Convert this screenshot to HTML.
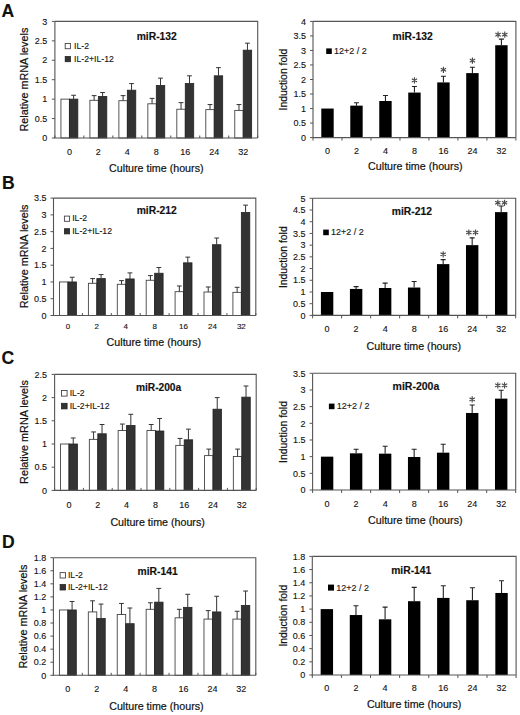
<!DOCTYPE html>
<html><head><meta charset="utf-8"><style>
html,body{margin:0;padding:0;background:#fff;}
svg{display:block;}
text{font-family:"Liberation Sans", sans-serif;fill:#111;stroke:#111;stroke-width:0.12px;}
.t{stroke:#111;stroke-width:0.2px;}
.tb{stroke:#111;stroke-width:0.15px;}
</style></head><body>
<svg width="520" height="715" viewBox="0 0 520 715">
<rect width="520" height="715" fill="#fff"/>
<path d="M54.90 21.40H257.70V138.00" fill="none" stroke="#555" stroke-width="1.1"/>
<rect x="60.94" y="99.13" width="8.45" height="38.87" fill="#fff" stroke="#444" stroke-width="0.9"/>
<rect x="69.39" y="99.13" width="8.45" height="38.87" fill="#333" stroke="#222" stroke-width="0.8"/>
<path d="M73.61 99.13V95.25M71.21 95.25H76.01" stroke="#333" stroke-width="1" fill="none"/>
<rect x="89.91" y="100.30" width="8.45" height="37.70" fill="#fff" stroke="#444" stroke-width="0.9"/>
<rect x="98.36" y="96.41" width="8.45" height="41.59" fill="#333" stroke="#222" stroke-width="0.8"/>
<path d="M94.13 100.30V95.64M91.73 95.64H96.53" stroke="#333" stroke-width="1" fill="none"/>
<path d="M102.58 96.41V92.53M100.18 92.53H104.98" stroke="#333" stroke-width="1" fill="none"/>
<rect x="118.88" y="100.69" width="8.45" height="37.31" fill="#fff" stroke="#444" stroke-width="0.9"/>
<rect x="127.33" y="90.19" width="8.45" height="47.81" fill="#333" stroke="#222" stroke-width="0.8"/>
<path d="M123.10 100.69V95.64M120.70 95.64H125.50" stroke="#333" stroke-width="1" fill="none"/>
<path d="M131.55 90.19V83.59M129.15 83.59H133.95" stroke="#333" stroke-width="1" fill="none"/>
<rect x="147.85" y="103.80" width="8.45" height="34.20" fill="#fff" stroke="#444" stroke-width="0.9"/>
<rect x="156.30" y="85.53" width="8.45" height="52.47" fill="#333" stroke="#222" stroke-width="0.8"/>
<path d="M152.07 103.80V98.36M149.67 98.36H154.47" stroke="#333" stroke-width="1" fill="none"/>
<path d="M160.52 85.53V78.15M158.12 78.15H162.92" stroke="#333" stroke-width="1" fill="none"/>
<rect x="176.82" y="109.24" width="8.45" height="28.76" fill="#fff" stroke="#444" stroke-width="0.9"/>
<rect x="185.27" y="83.59" width="8.45" height="54.41" fill="#333" stroke="#222" stroke-width="0.8"/>
<path d="M181.05 109.24V102.63M178.65 102.63H183.45" stroke="#333" stroke-width="1" fill="none"/>
<path d="M189.50 83.59V75.81M187.10 75.81H191.90" stroke="#333" stroke-width="1" fill="none"/>
<rect x="205.79" y="109.63" width="8.45" height="28.37" fill="#fff" stroke="#444" stroke-width="0.9"/>
<rect x="214.24" y="75.81" width="8.45" height="62.19" fill="#333" stroke="#222" stroke-width="0.8"/>
<path d="M210.02 109.63V104.57M207.62 104.57H212.42" stroke="#333" stroke-width="1" fill="none"/>
<path d="M218.47 75.81V67.65M216.07 67.65H220.87" stroke="#333" stroke-width="1" fill="none"/>
<rect x="234.76" y="110.40" width="8.45" height="27.60" fill="#fff" stroke="#444" stroke-width="0.9"/>
<rect x="243.21" y="50.16" width="8.45" height="87.84" fill="#333" stroke="#222" stroke-width="0.8"/>
<path d="M238.99 110.40V104.57M236.59 104.57H241.39" stroke="#333" stroke-width="1" fill="none"/>
<path d="M247.44 50.16V43.17M245.04 43.17H249.84" stroke="#333" stroke-width="1" fill="none"/>
<path d="M54.90 21.40V138.00H257.70" fill="none" stroke="#555" stroke-width="1.1"/>
<text x="47.20" y="141.20" text-anchor="end" font-size="9">0</text>
<text x="47.20" y="121.77" text-anchor="end" font-size="9">0.5</text>
<text x="47.20" y="102.33" text-anchor="end" font-size="9">1</text>
<text x="47.20" y="82.90" text-anchor="end" font-size="9">1.5</text>
<text x="47.20" y="63.47" text-anchor="end" font-size="9">2</text>
<text x="47.20" y="44.03" text-anchor="end" font-size="9">2.5</text>
<text x="47.20" y="24.60" text-anchor="end" font-size="9">3</text>
<path d="M51.90 138.00H54.90M51.90 118.57H54.90M51.90 99.13H54.90M51.90 79.70H54.90M51.90 60.27H54.90M51.90 40.83H54.90M51.90 21.40H54.90" stroke="#555" stroke-width="1"/>
<path d="M54.90 135.50V138.00M83.87 135.50V138.00M112.84 135.50V138.00M141.81 135.50V138.00M170.79 135.50V138.00M199.76 135.50V138.00M228.73 135.50V138.00M257.70 135.50V138.00" stroke="#555" stroke-width="1"/>
<text x="69.39" y="154.80" text-anchor="middle" font-size="9">0</text>
<text x="98.36" y="154.80" text-anchor="middle" font-size="9">2</text>
<text x="127.33" y="154.80" text-anchor="middle" font-size="9">4</text>
<text x="156.30" y="154.80" text-anchor="middle" font-size="9">8</text>
<text x="185.27" y="154.80" text-anchor="middle" font-size="9">16</text>
<text x="214.24" y="154.80" text-anchor="middle" font-size="9">24</text>
<text x="243.21" y="154.80" text-anchor="middle" font-size="9">32</text>
<text class="t" x="109.10" y="172.00" font-size="10.7">Culture time (hours)</text>
<text class="t" transform="translate(27.60 79.60) rotate(-90)" text-anchor="middle" font-size="10.8">Relative mRNA levels</text>
<text x="136.70" y="40.00" font-size="10.3" font-weight="bold" class="tb">miR-132</text>
<rect x="65.20" y="43.50" width="5.2" height="5.2" fill="#fff" stroke="#444" stroke-width="0.9"/>
<text x="74.00" y="48.70" font-size="8.7">IL-2</text>
<rect x="65.20" y="56.50" width="5.2" height="5.2" fill="#333" stroke="#222" stroke-width="0.8"/>
<text x="74.00" y="61.70" font-size="8.7">IL-2+IL-12</text>
<path d="M53.50 198.10H255.80V315.50" fill="none" stroke="#555" stroke-width="1.1"/>
<rect x="59.50" y="281.96" width="8.45" height="33.54" fill="#fff" stroke="#444" stroke-width="0.9"/>
<rect x="67.95" y="281.96" width="8.45" height="33.54" fill="#333" stroke="#222" stroke-width="0.8"/>
<path d="M72.17 281.96V277.26M69.77 277.26H74.58" stroke="#333" stroke-width="1" fill="none"/>
<rect x="88.40" y="283.30" width="8.45" height="32.20" fill="#fff" stroke="#444" stroke-width="0.9"/>
<rect x="96.85" y="278.60" width="8.45" height="36.90" fill="#333" stroke="#222" stroke-width="0.8"/>
<path d="M92.62 283.30V278.60M90.22 278.60H95.02" stroke="#333" stroke-width="1" fill="none"/>
<path d="M101.07 278.60V274.58M98.67 274.58H103.47" stroke="#333" stroke-width="1" fill="none"/>
<rect x="117.30" y="284.31" width="8.45" height="31.19" fill="#fff" stroke="#444" stroke-width="0.9"/>
<rect x="125.75" y="278.94" width="8.45" height="36.56" fill="#333" stroke="#222" stroke-width="0.8"/>
<path d="M121.52 284.31V280.62M119.12 280.62H123.92" stroke="#333" stroke-width="1" fill="none"/>
<path d="M129.97 278.94V272.90M127.57 272.90H132.38" stroke="#333" stroke-width="1" fill="none"/>
<rect x="146.20" y="280.28" width="8.45" height="35.22" fill="#fff" stroke="#444" stroke-width="0.9"/>
<rect x="154.65" y="273.24" width="8.45" height="42.26" fill="#333" stroke="#222" stroke-width="0.8"/>
<path d="M150.43 280.28V275.58M148.03 275.58H152.83" stroke="#333" stroke-width="1" fill="none"/>
<path d="M158.88 273.24V267.53M156.47 267.53H161.28" stroke="#333" stroke-width="1" fill="none"/>
<rect x="175.10" y="291.68" width="8.45" height="23.82" fill="#fff" stroke="#444" stroke-width="0.9"/>
<rect x="183.55" y="262.84" width="8.45" height="52.66" fill="#333" stroke="#222" stroke-width="0.8"/>
<path d="M179.33 291.68V285.98M176.93 285.98H181.73" stroke="#333" stroke-width="1" fill="none"/>
<path d="M187.78 262.84V257.14M185.38 257.14H190.18" stroke="#333" stroke-width="1" fill="none"/>
<rect x="204.00" y="292.02" width="8.45" height="23.48" fill="#fff" stroke="#444" stroke-width="0.9"/>
<rect x="212.45" y="244.72" width="8.45" height="70.78" fill="#333" stroke="#222" stroke-width="0.8"/>
<path d="M208.23 292.02V286.99M205.83 286.99H210.63" stroke="#333" stroke-width="1" fill="none"/>
<path d="M216.68 244.72V238.02M214.28 238.02H219.08" stroke="#333" stroke-width="1" fill="none"/>
<rect x="232.90" y="292.36" width="8.45" height="23.14" fill="#fff" stroke="#444" stroke-width="0.9"/>
<rect x="241.35" y="212.52" width="8.45" height="102.98" fill="#333" stroke="#222" stroke-width="0.8"/>
<path d="M237.13 292.36V287.32M234.73 287.32H239.53" stroke="#333" stroke-width="1" fill="none"/>
<path d="M245.58 212.52V205.14M243.18 205.14H247.98" stroke="#333" stroke-width="1" fill="none"/>
<path d="M53.50 198.10V315.50H255.80" fill="none" stroke="#555" stroke-width="1.1"/>
<text x="46.50" y="318.70" text-anchor="end" font-size="9">0</text>
<text x="46.50" y="301.93" text-anchor="end" font-size="9">0.5</text>
<text x="46.50" y="285.16" text-anchor="end" font-size="9">1</text>
<text x="46.50" y="268.39" text-anchor="end" font-size="9">1.5</text>
<text x="46.50" y="251.61" text-anchor="end" font-size="9">2</text>
<text x="46.50" y="234.84" text-anchor="end" font-size="9">2.5</text>
<text x="46.50" y="218.07" text-anchor="end" font-size="9">3</text>
<text x="46.50" y="201.30" text-anchor="end" font-size="9">3.5</text>
<path d="M50.50 315.50H53.50M50.50 298.73H53.50M50.50 281.96H53.50M50.50 265.19H53.50M50.50 248.41H53.50M50.50 231.64H53.50M50.50 214.87H53.50M50.50 198.10H53.50" stroke="#555" stroke-width="1"/>
<path d="M53.50 313.00V315.50M82.40 313.00V315.50M111.30 313.00V315.50M140.20 313.00V315.50M169.10 313.00V315.50M198.00 313.00V315.50M226.90 313.00V315.50M255.80 313.00V315.50" stroke="#555" stroke-width="1"/>
<text x="67.95" y="329.40" text-anchor="middle" font-size="8">0</text>
<text x="96.85" y="329.40" text-anchor="middle" font-size="8">2</text>
<text x="125.75" y="329.40" text-anchor="middle" font-size="8">4</text>
<text x="154.65" y="329.40" text-anchor="middle" font-size="8">8</text>
<text x="183.55" y="329.40" text-anchor="middle" font-size="8">16</text>
<text x="212.45" y="329.40" text-anchor="middle" font-size="8">24</text>
<text x="241.35" y="329.40" text-anchor="middle" font-size="8">32</text>
<text class="t" x="106.60" y="346.40" font-size="10.7">Culture time (hours)</text>
<text class="t" transform="translate(27.50 256.40) rotate(-90)" text-anchor="middle" font-size="10.8">Relative mRNA levels</text>
<text x="136.70" y="214.10" font-size="10.3" font-weight="bold" class="tb">miR-212</text>
<rect x="64.40" y="216.10" width="5.2" height="5.2" fill="#fff" stroke="#444" stroke-width="0.9"/>
<text x="72.20" y="221.30" font-size="8.7">IL-2</text>
<rect x="64.40" y="228.70" width="5.2" height="5.2" fill="#333" stroke="#222" stroke-width="0.8"/>
<text x="72.20" y="233.90" font-size="8.7">IL-2+IL-12</text>
<path d="M54.60 374.40H256.20V490.40" fill="none" stroke="#555" stroke-width="1.1"/>
<rect x="60.55" y="444.00" width="8.45" height="46.40" fill="#fff" stroke="#444" stroke-width="0.9"/>
<rect x="69.00" y="444.00" width="8.45" height="46.40" fill="#333" stroke="#222" stroke-width="0.8"/>
<path d="M73.22 444.00V437.97M70.82 437.97H75.62" stroke="#333" stroke-width="1" fill="none"/>
<rect x="89.35" y="439.36" width="8.45" height="51.04" fill="#fff" stroke="#444" stroke-width="0.9"/>
<rect x="97.80" y="433.79" width="8.45" height="56.61" fill="#333" stroke="#222" stroke-width="0.8"/>
<path d="M93.58 439.36V431.94M91.17 431.94H95.98" stroke="#333" stroke-width="1" fill="none"/>
<path d="M102.03 433.79V424.51M99.62 424.51H104.43" stroke="#333" stroke-width="1" fill="none"/>
<rect x="118.15" y="430.54" width="8.45" height="59.86" fill="#fff" stroke="#444" stroke-width="0.9"/>
<rect x="126.60" y="425.44" width="8.45" height="64.96" fill="#333" stroke="#222" stroke-width="0.8"/>
<path d="M122.37 430.54V424.05M119.97 424.05H124.77" stroke="#333" stroke-width="1" fill="none"/>
<path d="M130.82 425.44V414.30M128.42 414.30H133.22" stroke="#333" stroke-width="1" fill="none"/>
<rect x="146.95" y="430.54" width="8.45" height="59.86" fill="#fff" stroke="#444" stroke-width="0.9"/>
<rect x="155.40" y="431.01" width="8.45" height="59.39" fill="#333" stroke="#222" stroke-width="0.8"/>
<path d="M151.18 430.54V424.51M148.78 424.51H153.58" stroke="#333" stroke-width="1" fill="none"/>
<path d="M159.62 431.01V418.48M157.22 418.48H162.03" stroke="#333" stroke-width="1" fill="none"/>
<rect x="175.75" y="445.39" width="8.45" height="45.01" fill="#fff" stroke="#444" stroke-width="0.9"/>
<rect x="184.20" y="439.82" width="8.45" height="50.58" fill="#333" stroke="#222" stroke-width="0.8"/>
<path d="M179.97 445.39V438.43M177.57 438.43H182.38" stroke="#333" stroke-width="1" fill="none"/>
<path d="M188.42 439.82V429.15M186.02 429.15H190.82" stroke="#333" stroke-width="1" fill="none"/>
<rect x="204.55" y="455.60" width="8.45" height="34.80" fill="#fff" stroke="#444" stroke-width="0.9"/>
<rect x="213.00" y="409.20" width="8.45" height="81.20" fill="#333" stroke="#222" stroke-width="0.8"/>
<path d="M208.78 455.60V449.10M206.38 449.10H211.18" stroke="#333" stroke-width="1" fill="none"/>
<path d="M217.22 409.20V397.60M214.82 397.60H219.62" stroke="#333" stroke-width="1" fill="none"/>
<rect x="233.35" y="456.53" width="8.45" height="33.87" fill="#fff" stroke="#444" stroke-width="0.9"/>
<rect x="241.80" y="397.14" width="8.45" height="93.26" fill="#333" stroke="#222" stroke-width="0.8"/>
<path d="M237.58 456.53V449.10M235.18 449.10H239.98" stroke="#333" stroke-width="1" fill="none"/>
<path d="M246.03 397.14V386.00M243.62 386.00H248.43" stroke="#333" stroke-width="1" fill="none"/>
<path d="M54.60 374.40V490.40H256.20" fill="none" stroke="#555" stroke-width="1.1"/>
<text x="47.10" y="493.60" text-anchor="end" font-size="9">0</text>
<text x="47.10" y="470.40" text-anchor="end" font-size="9">0.5</text>
<text x="47.10" y="447.20" text-anchor="end" font-size="9">1</text>
<text x="47.10" y="424.00" text-anchor="end" font-size="9">1.5</text>
<text x="47.10" y="400.80" text-anchor="end" font-size="9">2</text>
<text x="47.10" y="377.60" text-anchor="end" font-size="9">2.5</text>
<path d="M51.60 490.40H54.60M51.60 467.20H54.60M51.60 444.00H54.60M51.60 420.80H54.60M51.60 397.60H54.60M51.60 374.40H54.60" stroke="#555" stroke-width="1"/>
<path d="M54.60 487.90V490.40M83.40 487.90V490.40M112.20 487.90V490.40M141.00 487.90V490.40M169.80 487.90V490.40M198.60 487.90V490.40M227.40 487.90V490.40M256.20 487.90V490.40" stroke="#555" stroke-width="1"/>
<text x="69.00" y="507.50" text-anchor="middle" font-size="9">0</text>
<text x="97.80" y="507.50" text-anchor="middle" font-size="9">2</text>
<text x="126.60" y="507.50" text-anchor="middle" font-size="9">4</text>
<text x="155.40" y="507.50" text-anchor="middle" font-size="9">8</text>
<text x="184.20" y="507.50" text-anchor="middle" font-size="9">16</text>
<text x="213.00" y="507.50" text-anchor="middle" font-size="9">24</text>
<text x="241.80" y="507.50" text-anchor="middle" font-size="9">32</text>
<text class="t" x="110.40" y="526.00" font-size="10.7">Culture time (hours)</text>
<text class="t" transform="translate(27.50 432.00) rotate(-90)" text-anchor="middle" font-size="10.8">Relative mRNA levels</text>
<text x="135.90" y="391.00" font-size="10.2" font-weight="bold" class="tb">miR-200a</text>
<rect x="61.50" y="390.50" width="5.6" height="5.6" fill="#fff" stroke="#444" stroke-width="0.9"/>
<text x="69.70" y="396.10" font-size="8.7">IL-2</text>
<rect x="61.50" y="403.30" width="5.6" height="5.6" fill="#333" stroke="#222" stroke-width="0.8"/>
<text x="69.70" y="408.90" font-size="8.7">IL-2+IL-12</text>
<path d="M53.40 557.70H255.80V675.30" fill="none" stroke="#555" stroke-width="1.1"/>
<rect x="59.41" y="609.97" width="8.45" height="65.33" fill="#fff" stroke="#444" stroke-width="0.9"/>
<rect x="67.86" y="609.97" width="8.45" height="65.33" fill="#333" stroke="#222" stroke-width="0.8"/>
<path d="M72.08 609.97V601.47M69.68 601.47H74.48" stroke="#333" stroke-width="1" fill="none"/>
<rect x="88.32" y="611.93" width="8.45" height="63.37" fill="#fff" stroke="#444" stroke-width="0.9"/>
<rect x="96.77" y="618.46" width="8.45" height="56.84" fill="#333" stroke="#222" stroke-width="0.8"/>
<path d="M92.55 611.93V600.82M90.15 600.82H94.95" stroke="#333" stroke-width="1" fill="none"/>
<path d="M101.00 618.46V604.09M98.60 604.09H103.40" stroke="#333" stroke-width="1" fill="none"/>
<rect x="117.24" y="614.54" width="8.45" height="60.76" fill="#fff" stroke="#444" stroke-width="0.9"/>
<rect x="125.69" y="623.69" width="8.45" height="51.61" fill="#333" stroke="#222" stroke-width="0.8"/>
<path d="M121.46 614.54V603.43M119.06 603.43H123.86" stroke="#333" stroke-width="1" fill="none"/>
<path d="M129.91 623.69V608.01M127.51 608.01H132.31" stroke="#333" stroke-width="1" fill="none"/>
<rect x="146.15" y="609.31" width="8.45" height="65.99" fill="#fff" stroke="#444" stroke-width="0.9"/>
<rect x="154.60" y="602.13" width="8.45" height="73.17" fill="#333" stroke="#222" stroke-width="0.8"/>
<path d="M150.38 609.31V602.78M147.97 602.78H152.78" stroke="#333" stroke-width="1" fill="none"/>
<path d="M158.82 602.13V588.41M156.42 588.41H161.22" stroke="#333" stroke-width="1" fill="none"/>
<rect x="175.06" y="617.81" width="8.45" height="57.49" fill="#fff" stroke="#444" stroke-width="0.9"/>
<rect x="183.51" y="607.35" width="8.45" height="67.95" fill="#333" stroke="#222" stroke-width="0.8"/>
<path d="M179.29 617.81V609.31M176.89 609.31H181.69" stroke="#333" stroke-width="1" fill="none"/>
<path d="M187.74 607.35V594.29M185.34 594.29H190.14" stroke="#333" stroke-width="1" fill="none"/>
<rect x="203.98" y="619.11" width="8.45" height="56.19" fill="#fff" stroke="#444" stroke-width="0.9"/>
<rect x="212.43" y="611.93" width="8.45" height="63.37" fill="#333" stroke="#222" stroke-width="0.8"/>
<path d="M208.20 619.11V610.62M205.80 610.62H210.60" stroke="#333" stroke-width="1" fill="none"/>
<path d="M216.65 611.93V596.25M214.25 596.25H219.05" stroke="#333" stroke-width="1" fill="none"/>
<rect x="232.89" y="619.11" width="8.45" height="56.19" fill="#fff" stroke="#444" stroke-width="0.9"/>
<rect x="241.34" y="605.39" width="8.45" height="69.91" fill="#333" stroke="#222" stroke-width="0.8"/>
<path d="M237.12 619.11V611.27M234.72 611.27H239.52" stroke="#333" stroke-width="1" fill="none"/>
<path d="M245.57 605.39V591.02M243.17 591.02H247.97" stroke="#333" stroke-width="1" fill="none"/>
<path d="M53.40 557.70V675.30H255.80" fill="none" stroke="#555" stroke-width="1.1"/>
<text x="46.20" y="678.50" text-anchor="end" font-size="9">0</text>
<text x="46.20" y="665.43" text-anchor="end" font-size="9">0.2</text>
<text x="46.20" y="652.37" text-anchor="end" font-size="9">0.4</text>
<text x="46.20" y="639.30" text-anchor="end" font-size="9">0.6</text>
<text x="46.20" y="626.23" text-anchor="end" font-size="9">0.8</text>
<text x="46.20" y="613.17" text-anchor="end" font-size="9">1</text>
<text x="46.20" y="600.10" text-anchor="end" font-size="9">1.2</text>
<text x="46.20" y="587.03" text-anchor="end" font-size="9">1.4</text>
<text x="46.20" y="573.97" text-anchor="end" font-size="9">1.6</text>
<text x="46.20" y="560.90" text-anchor="end" font-size="9">1.8</text>
<path d="M50.40 675.30H53.40M50.40 662.23H53.40M50.40 649.17H53.40M50.40 636.10H53.40M50.40 623.03H53.40M50.40 609.97H53.40M50.40 596.90H53.40M50.40 583.83H53.40M50.40 570.77H53.40M50.40 557.70H53.40" stroke="#555" stroke-width="1"/>
<path d="M53.40 672.80V675.30M82.31 672.80V675.30M111.23 672.80V675.30M140.14 672.80V675.30M169.06 672.80V675.30M197.97 672.80V675.30M226.89 672.80V675.30M255.80 672.80V675.30" stroke="#555" stroke-width="1"/>
<text x="67.86" y="692.30" text-anchor="middle" font-size="9">0</text>
<text x="96.77" y="692.30" text-anchor="middle" font-size="9">2</text>
<text x="125.69" y="692.30" text-anchor="middle" font-size="9">4</text>
<text x="154.60" y="692.30" text-anchor="middle" font-size="9">8</text>
<text x="183.51" y="692.30" text-anchor="middle" font-size="9">16</text>
<text x="212.43" y="692.30" text-anchor="middle" font-size="9">24</text>
<text x="241.34" y="692.30" text-anchor="middle" font-size="9">32</text>
<text class="t" x="109.20" y="710.10" font-size="10.7">Culture time (hours)</text>
<text class="t" transform="translate(27.00 616.60) rotate(-90)" text-anchor="middle" font-size="10.8">Relative mRNA levels</text>
<text x="137.60" y="575.20" font-size="10.3" font-weight="bold" class="tb">miR-141</text>
<rect x="60.10" y="572.60" width="5.4" height="5.4" fill="#fff" stroke="#444" stroke-width="0.9"/>
<text x="67.90" y="578.00" font-size="8.7">IL-2</text>
<rect x="60.10" y="584.60" width="5.4" height="5.4" fill="#333" stroke="#222" stroke-width="0.8"/>
<text x="67.90" y="590.00" font-size="8.7">IL-2+IL-12</text>
<path d="M313.00 21.40H515.90V137.60" fill="none" stroke="#555" stroke-width="1.1"/>
<rect x="321.29" y="108.55" width="12.40" height="29.05" fill="#000"/>
<rect x="350.28" y="105.64" width="12.40" height="31.95" fill="#000"/>
<path d="M356.48 105.64V102.74M353.98 102.74H358.98" stroke="#222" stroke-width="1.1" fill="none"/>
<rect x="379.26" y="101.00" width="12.40" height="36.60" fill="#000"/>
<path d="M385.46 101.00V95.48M382.96 95.48H387.96" stroke="#222" stroke-width="1.1" fill="none"/>
<rect x="408.25" y="92.57" width="12.40" height="45.03" fill="#000"/>
<path d="M414.45 92.57V86.47M411.95 86.47H416.95" stroke="#222" stroke-width="1.1" fill="none"/>
<path d="M414.45 77.30L414.45 83.50M411.77 78.85L417.13 81.95M411.77 81.95L417.13 78.85" stroke="#4a4a4a" stroke-width="1.15" stroke-linecap="butt"/>
<rect x="437.24" y="82.41" width="12.40" height="55.19" fill="#000"/>
<path d="M443.44 82.41V76.30M440.94 76.30H445.94" stroke="#222" stroke-width="1.1" fill="none"/>
<path d="M443.44 66.70L443.44 72.90M440.75 68.25L446.12 71.35M440.75 71.35L446.12 68.25" stroke="#4a4a4a" stroke-width="1.15" stroke-linecap="butt"/>
<rect x="466.22" y="73.11" width="12.40" height="64.49" fill="#000"/>
<path d="M472.42 73.11V67.30M469.92 67.30H474.92" stroke="#222" stroke-width="1.1" fill="none"/>
<path d="M472.42 57.50L472.42 63.70M469.74 59.05L475.11 62.15M469.74 62.15L475.11 59.05" stroke="#4a4a4a" stroke-width="1.15" stroke-linecap="butt"/>
<rect x="495.21" y="45.22" width="12.40" height="92.38" fill="#000"/>
<path d="M501.41 45.22V39.12M498.91 39.12H503.91" stroke="#222" stroke-width="1.1" fill="none"/>
<path d="M498.06 31.50L498.06 37.70M495.37 33.05L500.74 36.15M495.37 36.15L500.74 33.05" stroke="#4a4a4a" stroke-width="1.15" stroke-linecap="butt"/>
<path d="M504.76 31.50L504.76 37.70M502.07 33.05L507.44 36.15M502.07 36.15L507.44 33.05" stroke="#4a4a4a" stroke-width="1.15" stroke-linecap="butt"/>
<path d="M313.00 21.40V137.60H515.90" fill="none" stroke="#555" stroke-width="1.1"/>
<text x="306.00" y="140.80" text-anchor="end" font-size="9">0</text>
<text x="306.00" y="126.27" text-anchor="end" font-size="9">0.5</text>
<text x="306.00" y="111.75" text-anchor="end" font-size="9">1</text>
<text x="306.00" y="97.23" text-anchor="end" font-size="9">1.5</text>
<text x="306.00" y="82.70" text-anchor="end" font-size="9">2</text>
<text x="306.00" y="68.17" text-anchor="end" font-size="9">2.5</text>
<text x="306.00" y="53.65" text-anchor="end" font-size="9">3</text>
<text x="306.00" y="39.13" text-anchor="end" font-size="9">3.5</text>
<text x="306.00" y="24.60" text-anchor="end" font-size="9">4</text>
<path d="M310.00 137.60H313.00M310.00 123.07H313.00M310.00 108.55H313.00M310.00 94.03H313.00M310.00 79.50H313.00M310.00 64.97H313.00M310.00 50.45H313.00M310.00 35.93H313.00M310.00 21.40H313.00" stroke="#555" stroke-width="1"/>
<path d="M313.00 137.60V140.60M341.99 137.60V140.60M370.97 137.60V140.60M399.96 137.60V140.60M428.94 137.60V140.60M457.93 137.60V140.60M486.91 137.60V140.60M515.90 137.60V140.60" stroke="#555" stroke-width="1"/>
<text x="327.49" y="153.50" text-anchor="middle" font-size="9">0</text>
<text x="356.48" y="153.50" text-anchor="middle" font-size="9">2</text>
<text x="385.46" y="153.50" text-anchor="middle" font-size="9">4</text>
<text x="414.45" y="153.50" text-anchor="middle" font-size="9">8</text>
<text x="443.44" y="153.50" text-anchor="middle" font-size="9">16</text>
<text x="472.42" y="153.50" text-anchor="middle" font-size="9">24</text>
<text x="501.41" y="153.50" text-anchor="middle" font-size="9">32</text>
<text class="t" x="368.10" y="170.20" font-size="10.7">Culture time (hours)</text>
<text class="t" transform="translate(286.80 79.60) rotate(-90)" text-anchor="middle" font-size="10.4">Induction fold</text>
<text x="392.60" y="39.80" font-size="10.3" font-weight="bold" class="tb">miR-132</text>
<rect x="326.20" y="48.40" width="5.6" height="5.6" fill="#000"/>
<text x="334.10" y="54.00" font-size="9">12+2 / 2</text>
<path d="M312.60 198.30H515.70V315.40" fill="none" stroke="#555" stroke-width="1.1"/>
<rect x="320.91" y="291.98" width="12.40" height="23.42" fill="#000"/>
<rect x="349.92" y="288.94" width="12.40" height="26.46" fill="#000"/>
<path d="M356.12 288.94V286.59M353.62 286.59H358.62" stroke="#222" stroke-width="1.1" fill="none"/>
<rect x="378.94" y="288.00" width="12.40" height="27.40" fill="#000"/>
<path d="M385.14 288.00V283.08M382.64 283.08H387.64" stroke="#222" stroke-width="1.1" fill="none"/>
<rect x="407.95" y="287.53" width="12.40" height="27.87" fill="#000"/>
<path d="M414.15 287.53V281.44M411.65 281.44H416.65" stroke="#222" stroke-width="1.1" fill="none"/>
<rect x="436.96" y="264.11" width="12.40" height="51.29" fill="#000"/>
<path d="M443.16 264.11V259.66M440.66 259.66H445.66" stroke="#222" stroke-width="1.1" fill="none"/>
<path d="M443.16 251.20L443.16 257.40M440.48 252.75L445.85 255.85M440.48 255.85L445.85 252.75" stroke="#4a4a4a" stroke-width="1.15" stroke-linecap="butt"/>
<rect x="465.98" y="245.14" width="12.40" height="70.26" fill="#000"/>
<path d="M472.18 245.14V237.88M469.68 237.88H474.68" stroke="#222" stroke-width="1.1" fill="none"/>
<path d="M468.83 229.40L468.83 235.60M466.14 230.95L471.51 234.05M466.14 234.05L471.51 230.95" stroke="#4a4a4a" stroke-width="1.15" stroke-linecap="butt"/>
<path d="M475.53 229.40L475.53 235.60M472.84 230.95L478.21 234.05M472.84 234.05L478.21 230.95" stroke="#4a4a4a" stroke-width="1.15" stroke-linecap="butt"/>
<rect x="494.99" y="212.12" width="12.40" height="103.28" fill="#000"/>
<path d="M501.19 212.12V206.03M498.69 206.03H503.69" stroke="#222" stroke-width="1.1" fill="none"/>
<path d="M497.84 199.70L497.84 205.90M495.16 201.25L500.53 204.35M495.16 204.35L500.53 201.25" stroke="#4a4a4a" stroke-width="1.15" stroke-linecap="butt"/>
<path d="M504.54 199.70L504.54 205.90M501.86 201.25L507.23 204.35M501.86 204.35L507.23 201.25" stroke="#4a4a4a" stroke-width="1.15" stroke-linecap="butt"/>
<path d="M312.60 198.30V315.40H515.70" fill="none" stroke="#555" stroke-width="1.1"/>
<text x="305.60" y="318.60" text-anchor="end" font-size="9">0</text>
<text x="305.60" y="306.89" text-anchor="end" font-size="9">0.5</text>
<text x="305.60" y="295.18" text-anchor="end" font-size="9">1</text>
<text x="305.60" y="283.47" text-anchor="end" font-size="9">1.5</text>
<text x="305.60" y="271.76" text-anchor="end" font-size="9">2</text>
<text x="305.60" y="260.05" text-anchor="end" font-size="9">2.5</text>
<text x="305.60" y="248.34" text-anchor="end" font-size="9">3</text>
<text x="305.60" y="236.63" text-anchor="end" font-size="9">3.5</text>
<text x="305.60" y="224.92" text-anchor="end" font-size="9">4</text>
<text x="305.60" y="213.21" text-anchor="end" font-size="9">4.5</text>
<text x="305.60" y="201.50" text-anchor="end" font-size="9">5</text>
<path d="M309.60 315.40H312.60M309.60 303.69H312.60M309.60 291.98H312.60M309.60 280.27H312.60M309.60 268.56H312.60M309.60 256.85H312.60M309.60 245.14H312.60M309.60 233.43H312.60M309.60 221.72H312.60M309.60 210.01H312.60M309.60 198.30H312.60" stroke="#555" stroke-width="1"/>
<path d="M312.60 315.40V318.40M341.61 315.40V318.40M370.63 315.40V318.40M399.64 315.40V318.40M428.66 315.40V318.40M457.67 315.40V318.40M486.69 315.40V318.40M515.70 315.40V318.40" stroke="#555" stroke-width="1"/>
<text x="327.11" y="332.30" text-anchor="middle" font-size="9">0</text>
<text x="356.12" y="332.30" text-anchor="middle" font-size="9">2</text>
<text x="385.14" y="332.30" text-anchor="middle" font-size="9">4</text>
<text x="414.15" y="332.30" text-anchor="middle" font-size="9">8</text>
<text x="443.16" y="332.30" text-anchor="middle" font-size="9">16</text>
<text x="472.18" y="332.30" text-anchor="middle" font-size="9">24</text>
<text x="501.19" y="332.30" text-anchor="middle" font-size="9">32</text>
<text class="t" x="366.50" y="349.50" font-size="10.7">Culture time (hours)</text>
<text class="t" transform="translate(287.00 257.20) rotate(-90)" text-anchor="middle" font-size="10.4">Induction fold</text>
<text x="391.80" y="215.10" font-size="10.3" font-weight="bold" class="tb">miR-212</text>
<rect x="323.20" y="229.60" width="5.6" height="5.6" fill="#000"/>
<text x="331.10" y="235.20" font-size="9">12+2 / 2</text>
<path d="M312.60 373.30H515.70V490.00" fill="none" stroke="#555" stroke-width="1.1"/>
<rect x="320.91" y="456.66" width="12.40" height="33.34" fill="#000"/>
<rect x="349.92" y="453.32" width="12.40" height="36.68" fill="#000"/>
<path d="M356.12 453.32V449.32M353.62 449.32H358.62" stroke="#222" stroke-width="1.1" fill="none"/>
<rect x="378.94" y="453.66" width="12.40" height="36.34" fill="#000"/>
<path d="M385.14 453.66V446.32M382.64 446.32H387.64" stroke="#222" stroke-width="1.1" fill="none"/>
<rect x="407.95" y="456.99" width="12.40" height="33.01" fill="#000"/>
<path d="M414.15 456.99V449.32M411.65 449.32H416.65" stroke="#222" stroke-width="1.1" fill="none"/>
<rect x="436.96" y="452.66" width="12.40" height="37.34" fill="#000"/>
<path d="M443.16 452.66V444.32M440.66 444.32H445.66" stroke="#222" stroke-width="1.1" fill="none"/>
<rect x="465.98" y="412.98" width="12.40" height="77.02" fill="#000"/>
<path d="M472.18 412.98V404.98M469.68 404.98H474.68" stroke="#222" stroke-width="1.1" fill="none"/>
<path d="M472.18 396.30L472.18 402.50M469.49 397.85L474.86 400.95M469.49 400.95L474.86 397.85" stroke="#4a4a4a" stroke-width="1.15" stroke-linecap="butt"/>
<rect x="494.99" y="398.64" width="12.40" height="91.36" fill="#000"/>
<path d="M501.19 398.64V390.30M498.69 390.30H503.69" stroke="#222" stroke-width="1.1" fill="none"/>
<path d="M497.84 382.30L497.84 388.50M495.16 383.85L500.53 386.95M495.16 386.95L500.53 383.85" stroke="#4a4a4a" stroke-width="1.15" stroke-linecap="butt"/>
<path d="M504.54 382.30L504.54 388.50M501.86 383.85L507.23 386.95M501.86 386.95L507.23 383.85" stroke="#4a4a4a" stroke-width="1.15" stroke-linecap="butt"/>
<path d="M312.60 373.30V490.00H515.70" fill="none" stroke="#555" stroke-width="1.1"/>
<text x="305.60" y="493.20" text-anchor="end" font-size="9">0</text>
<text x="305.60" y="476.53" text-anchor="end" font-size="9">0.5</text>
<text x="305.60" y="459.86" text-anchor="end" font-size="9">1</text>
<text x="305.60" y="443.19" text-anchor="end" font-size="9">1.5</text>
<text x="305.60" y="426.51" text-anchor="end" font-size="9">2</text>
<text x="305.60" y="409.84" text-anchor="end" font-size="9">2.5</text>
<text x="305.60" y="393.17" text-anchor="end" font-size="9">3</text>
<text x="305.60" y="376.50" text-anchor="end" font-size="9">3.5</text>
<path d="M309.60 490.00H312.60M309.60 473.33H312.60M309.60 456.66H312.60M309.60 439.99H312.60M309.60 423.31H312.60M309.60 406.64H312.60M309.60 389.97H312.60M309.60 373.30H312.60" stroke="#555" stroke-width="1"/>
<path d="M312.60 490.00V493.00M341.61 490.00V493.00M370.63 490.00V493.00M399.64 490.00V493.00M428.66 490.00V493.00M457.67 490.00V493.00M486.69 490.00V493.00M515.70 490.00V493.00" stroke="#555" stroke-width="1"/>
<text x="327.11" y="506.50" text-anchor="middle" font-size="9">0</text>
<text x="356.12" y="506.50" text-anchor="middle" font-size="9">2</text>
<text x="385.14" y="506.50" text-anchor="middle" font-size="9">4</text>
<text x="414.15" y="506.50" text-anchor="middle" font-size="9">8</text>
<text x="443.16" y="506.50" text-anchor="middle" font-size="9">16</text>
<text x="472.18" y="506.50" text-anchor="middle" font-size="9">24</text>
<text x="501.19" y="506.50" text-anchor="middle" font-size="9">32</text>
<text class="t" x="368.10" y="524.20" font-size="10.7">Culture time (hours)</text>
<text class="t" transform="translate(287.00 432.00) rotate(-90)" text-anchor="middle" font-size="10.4">Induction fold</text>
<text x="392.60" y="389.60" font-size="10.5" font-weight="bold" class="tb">miR-200a</text>
<rect x="328.90" y="403.60" width="5.6" height="5.6" fill="#000"/>
<text x="336.80" y="409.20" font-size="9">12+2 / 2</text>
<path d="M312.30 556.40H516.10V675.00" fill="none" stroke="#555" stroke-width="1.1"/>
<rect x="320.66" y="609.11" width="12.40" height="65.89" fill="#000"/>
<rect x="349.77" y="615.04" width="12.40" height="59.96" fill="#000"/>
<path d="M355.97 615.04V605.82M353.47 605.82H358.47" stroke="#222" stroke-width="1.1" fill="none"/>
<rect x="378.89" y="619.32" width="12.40" height="55.68" fill="#000"/>
<path d="M385.09 619.32V607.13M382.59 607.13H387.59" stroke="#222" stroke-width="1.1" fill="none"/>
<rect x="408.00" y="601.20" width="12.40" height="73.80" fill="#000"/>
<path d="M414.20 601.20V587.37M411.70 587.37H416.70" stroke="#222" stroke-width="1.1" fill="none"/>
<rect x="437.11" y="597.91" width="12.40" height="77.09" fill="#000"/>
<path d="M443.31 597.91V585.72M440.81 585.72H445.81" stroke="#222" stroke-width="1.1" fill="none"/>
<rect x="466.23" y="600.22" width="12.40" height="74.78" fill="#000"/>
<path d="M472.43 600.22V587.70M469.93 587.70H474.93" stroke="#222" stroke-width="1.1" fill="none"/>
<rect x="495.34" y="592.97" width="12.40" height="82.03" fill="#000"/>
<path d="M501.54 592.97V580.78M499.04 580.78H504.04" stroke="#222" stroke-width="1.1" fill="none"/>
<path d="M312.30 556.40V675.00H516.10" fill="none" stroke="#555" stroke-width="1.1"/>
<text x="305.30" y="678.20" text-anchor="end" font-size="9">0</text>
<text x="305.30" y="665.02" text-anchor="end" font-size="9">0.2</text>
<text x="305.30" y="651.84" text-anchor="end" font-size="9">0.4</text>
<text x="305.30" y="638.67" text-anchor="end" font-size="9">0.6</text>
<text x="305.30" y="625.49" text-anchor="end" font-size="9">0.8</text>
<text x="305.30" y="612.31" text-anchor="end" font-size="9">1</text>
<text x="305.30" y="599.13" text-anchor="end" font-size="9">1.2</text>
<text x="305.30" y="585.96" text-anchor="end" font-size="9">1.4</text>
<text x="305.30" y="572.78" text-anchor="end" font-size="9">1.6</text>
<text x="305.30" y="559.60" text-anchor="end" font-size="9">1.8</text>
<path d="M309.30 675.00H312.30M309.30 661.82H312.30M309.30 648.64H312.30M309.30 635.47H312.30M309.30 622.29H312.30M309.30 609.11H312.30M309.30 595.93H312.30M309.30 582.76H312.30M309.30 569.58H312.30M309.30 556.40H312.30" stroke="#555" stroke-width="1"/>
<path d="M312.30 675.00V678.00M341.41 675.00V678.00M370.53 675.00V678.00M399.64 675.00V678.00M428.76 675.00V678.00M457.87 675.00V678.00M486.99 675.00V678.00M516.10 675.00V678.00" stroke="#555" stroke-width="1"/>
<text x="326.86" y="690.90" text-anchor="middle" font-size="9">0</text>
<text x="355.97" y="690.90" text-anchor="middle" font-size="9">2</text>
<text x="385.09" y="690.90" text-anchor="middle" font-size="9">4</text>
<text x="414.20" y="690.90" text-anchor="middle" font-size="9">8</text>
<text x="443.31" y="690.90" text-anchor="middle" font-size="9">16</text>
<text x="472.43" y="690.90" text-anchor="middle" font-size="9">24</text>
<text x="501.54" y="690.90" text-anchor="middle" font-size="9">32</text>
<text class="t" x="366.90" y="707.80" font-size="10.7">Culture time (hours)</text>
<text class="t" transform="translate(287.00 615.70) rotate(-90)" text-anchor="middle" font-size="10.4">Induction fold</text>
<text x="391.20" y="573.70" font-size="10.3" font-weight="bold" class="tb">miR-141</text>
<rect x="328.00" y="584.60" width="6.0" height="6.0" fill="#000"/>
<text x="336.30" y="590.60" font-size="9">12+2 / 2</text>
<text x="1.4" y="16.7" font-size="17.6" font-weight="bold">A</text>
<text x="1.9" y="188.7" font-size="17.6" font-weight="bold">B</text>
<text x="1.6" y="363.6" font-size="17.6" font-weight="bold">C</text>
<text x="1.9" y="547.6" font-size="17.6" font-weight="bold">D</text>
</svg>
</body></html>
